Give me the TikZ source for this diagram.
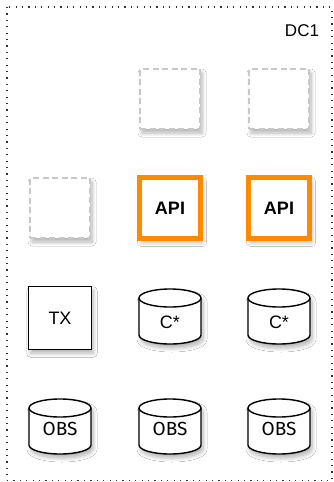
\documentclass[tikz,border=0pt]{standalone}
\usepackage{fontspec}
\setmainfont{Liberation Sans}
\newfontfamily\obsfont{Fira Sans}
\usetikzlibrary{shadows.blur}
\definecolor{apiorange}{HTML}{FF8A00}
\definecolor{ghostgray}{HTML}{C8C8C8}
\definecolor{framegray}{HTML}{333333}
\tikzset{
  softshadow/.style={blur shadow={shadow xshift=2pt, shadow yshift=-4pt,
      shadow blur radius=4pt, shadow blur steps=8, shadow opacity=30}},
  ghostbox/.style={rectangle, draw=ghostgray, line width=2pt,
      dash pattern=on 6pt off 3.5pt, fill=white, minimum size=60pt,
      inner sep=0pt, softshadow},
  apibox/.style={rectangle, draw=apiorange, line width=5pt, fill=white,
      minimum size=61pt, inner sep=0pt, softshadow,
      font=\fontsize{18}{18}\selectfont\bfseries},
  plainbox/.style={rectangle, draw=black, line width=1.4pt, fill=white,
      minimum size=62.5pt, inner sep=0pt, softshadow,
      font=\fontsize{18}{18}\selectfont},
  drumspace/.style={rectangle, draw=none, minimum width=64pt,
      minimum height=56pt, inner sep=0pt},
  drumline/.style={draw=black, line width=1.4pt, fill=white},
  drumtext/.style={inner sep=0pt, font=\fontsize{18}{18}\selectfont},
  obstext/.style={inner sep=0pt, font=\obsfont\fontsize{19}{19}\selectfont},
  dcframe/.style={draw=framegray, line width=1.1pt, dash pattern=on 1.2pt off 5.2pt},
}
% a database drum around a named node
\newcommand\drum[3]{%
  \node[drumspace] (#1) at (#2,#3) {};
  \path[drumline, softshadow] (#1.center) ++(-31,-18.5) -- ++(0,37)
    arc[start angle=180, end angle=360, x radius=31pt, y radius=9pt]
    -- ++(0,-37)
    arc[start angle=0, end angle=180, x radius=31pt, y radius=9pt] -- cycle;
  \path[drumline, fill=none] (#1.center) ++(-31,-18.5)
    arc[start angle=180, end angle=360, x radius=31pt, y radius=9pt];
}
\begin{document}
\begin{tikzpicture}[x=1pt, y=-1pt]
  \path[fill=white] (0,0) rectangle (334,482);
  \useasboundingbox (0,0) rectangle (334,482);

  % data centre frame
  \coordinate (frameNW) at (7,7);
  \coordinate (frameSE) at (332,480.5);
  \draw[dcframe] (frameNW) rectangle (frameSE);
  \node[inner sep=0pt, font=\fontsize{17}{17}\selectfont] (dc) at (302,31) {DC1};

  % row 1: spare slots
  \node[ghostbox] (g1) at (170,99) {};
  \node[ghostbox] (g2) at (279,99) {};

  % row 2: api tier
  \node[ghostbox] (g3) at (60,208) {};
  \node[apibox] (api1) at (170,208) {API};
  \node[apibox] (api2) at (279,208) {API};

  % row 3: transactions and cassandra
  \node[plainbox] (tx) at (60,318) {TX};
  \drum{cs1}{170}{316.5}
  \node[drumtext] (cs1text) at (170,322) {C*};
  \drum{cs2}{279}{316.5}
  \node[drumtext] (cs2text) at (279,322) {C*};

  % row 4: object stores
  \drum{obs1}{60}{426.5}
  \node[obstext] (obs1text) at (60,429) {OBS};
  \drum{obs2}{170}{426.5}
  \node[obstext] (obs2text) at (170,429) {OBS};
  \drum{obs3}{279}{426.5}
  \node[obstext] (obs3text) at (279,429) {OBS};
\end{tikzpicture}
\end{document}
